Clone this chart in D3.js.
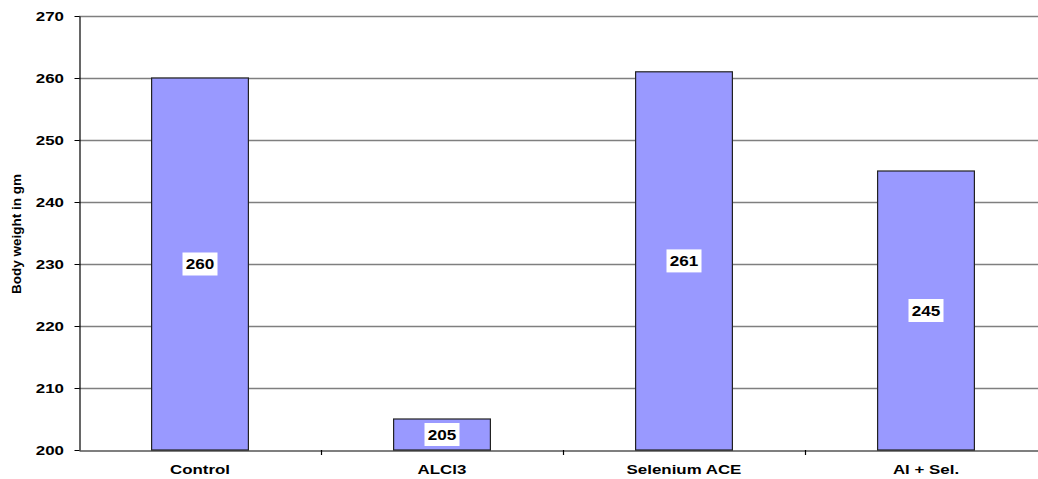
<!DOCTYPE html>
<html><head><meta charset="utf-8">
<script src="https://cdn.jsdelivr.net/npm/d3@7"></script>
<style>body{margin:0;background:#fff;} text{font-family:"Liberation Sans",Arial,sans-serif;font-weight:bold;}</style>
</head><body>
<svg id="c" width="1038" height="479"></svg>
<script>
const categories = ["Control", "ALCl3", "Selenium ACE", "Al + Sel."];
const values = [260, 205, 261, 245];
const yTicks = [200, 210, 220, 230, 240, 250, 260, 270];
const yLabel = "Body weight in gm";

(function () {
const svg = d3.select("#c");
const mL = 79, mR = 1047, mT = 16, mB = 450;
const FF = "'Liberation Sans',Arial,sans-serif";
const x = d3.scaleBand().domain(categories).range([mL, mR]).paddingInner(0).paddingOuter(0);
const y = d3.scaleLinear().domain([200, 270]).range([mB, mT]);

// gridlines
svg.append("g").selectAll("line").data(yTicks.filter(d => d > 200)).join("line")
  .attr("x1", mL).attr("x2", mR)
  .attr("y1", d => Math.round(y(d)) + 0.5).attr("y2", d => Math.round(y(d)) + 0.5)
  .attr("stroke", "#7f7f7f").attr("stroke-width", 1.3);

// bars
const bw = x.bandwidth() * 0.4;
svg.append("g").selectAll("rect").data(values).join("rect")
  .attr("x", (d, i) => x(categories[i]) + (x.bandwidth() - bw) / 2)
  .attr("y", d => y(d))
  .attr("width", bw)
  .attr("height", d => mB - y(d))
  .attr("fill", "#9999ff").attr("stroke", "#222").attr("stroke-width", 1.2);

// y axis
const yAxis = d3.axisLeft(y).tickValues(yTicks).tickSize(5).tickPadding(10).tickSizeOuter(0);
const yg = svg.append("g").attr("transform", `translate(${mL + 0.5},0)`).call(yAxis);
yg.select(".domain").attr("stroke", "#000").attr("stroke-width", 1.2);
yg.selectAll(".tick line").attr("stroke", "#000");
yg.selectAll(".tick text").attr("font-size", 13).attr("fill", "#000").attr("font-family", FF).attr("font-weight", "bold")
  .attr("x", 0).attr("transform", "translate(-15.5,0) scale(1.3,1)");

// x axis
const xg = svg.append("g").attr("transform", `translate(0,${mB + 0.5})`)
  .call(d3.axisBottom(x).tickSize(0).tickPadding(14).tickSizeOuter(0));
xg.select(".domain").attr("stroke", "#000").attr("stroke-width", 1.2);
xg.selectAll(".tick text").attr("font-size", 13).attr("fill", "#000").attr("font-family", FF).attr("font-weight", "bold")
  .attr("transform", "scale(1.3,1)");
// category separator ticks
svg.append("g").selectAll("line").data(categories.slice(1)).join("line")
  .attr("x1", d => Math.round(x(d)) + 0.5).attr("x2", d => Math.round(x(d)) + 0.5)
  .attr("y1", mB).attr("y2", mB + 5).attr("stroke", "#000").attr("stroke-width", 1.2);

// value labels
const lg = svg.append("g").selectAll("g").data(values).join("g")
  .attr("transform", (d, i) => `translate(${x(categories[i]) + x.bandwidth() / 2},${(y(d) + mB) / 2})`);
lg.append("rect").attr("x", -17.5).attr("y", -11.5).attr("width", 35).attr("height", 23).attr("fill", "#fff");
lg.append("text").attr("text-anchor", "middle").attr("dy", "0.36em").attr("font-size", 14.5).attr("fill", "#000")
  .attr("transform", "scale(1.18,1)").text(d => d);

// y label
svg.append("text").attr("transform", `translate(21,${(mT + mB) / 2 + 1}) rotate(-90)`)
  .attr("text-anchor", "middle").attr("font-size", 13.5).attr("fill", "#000").text(yLabel);
})();
</script>
</body></html>
